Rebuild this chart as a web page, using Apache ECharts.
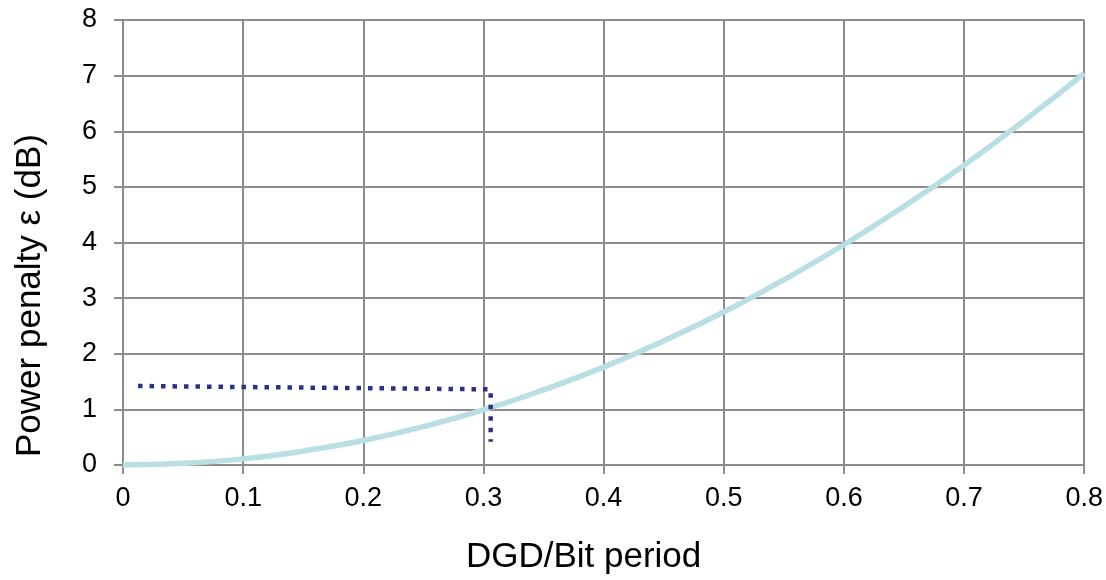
<!DOCTYPE html>
<html><head><meta charset="utf-8">
<script src="https://cdn.jsdelivr.net/npm/echarts@6/dist/echarts.min.js"></script>
<style>html,body{margin:0;padding:0;background:#fff}#c{width:1106px;height:580px}</style>
</head><body><div id="c"></div>
<script>
const dgd = [0, 0.05, 0.1, 0.15, 0.2, 0.25, 0.3, 0.35, 0.4, 0.45, 0.5, 0.55, 0.6, 0.65, 0.7, 0.75, 0.8];
const penalty = [0, 0.03, 0.11, 0.25, 0.44, 0.69, 0.99, 1.35, 1.76, 2.23, 2.75, 3.33, 3.96, 4.65, 5.39, 6.19, 7.04];
const guideX = [0.0125, 0.306, 0.306];
const guideY = [1.42, 1.36, 0.42];
const xTitle = 'DGD/Bit period';
const yTitle = 'Power penalty ε (dB)';

const chart = echarts.init(document.getElementById('c'));
const grid = '#8c8c8c';
const font = 'Liberation Sans, Arial, sans-serif';
chart.setOption({
  animation: false,
  grid: {left: 123, right: 20, top: 20, bottom: 115, containLabel: false},
  xAxis: {
    type: 'value', min: 0, max: 0.8, interval: 0.1,
    name: xTitle, nameLocation: 'middle', nameGap: 75,
    nameTextStyle: {fontFamily: font, fontSize: 35, color: '#000', padding: [0, 40, 0, 0]},
    axisLine: {show: true, lineStyle: {color: grid, width: 2}},
    axisTick: {show: true, length: 9, lineStyle: {color: grid, width: 2}},
    axisLabel: {margin: 20, fontFamily: font, fontSize: 27, color: '#000',
      formatter: v => String(Math.round(v*10)/10)},
    splitLine: {show: true, lineStyle: {color: grid, width: 2}}
  },
  yAxis: {
    type: 'value', min: 0, max: 8, interval: 1,
    name: yTitle, nameLocation: 'middle', nameGap: 75, nameRotate: 90,
    nameTextStyle: {fontFamily: font, fontSize: 35, color: '#000', padding: [0, 106, 0, 0]},
    axisLine: {show: true, lineStyle: {color: grid, width: 2}},
    axisTick: {show: true, length: 9, lineStyle: {color: grid, width: 2}},
    axisLabel: {margin: 26, fontFamily: font, fontSize: 27, color: '#000'},
    splitLine: {show: true, lineStyle: {color: grid, width: 2}}
  },
  series: [
    {type: 'line', smooth: true, symbol: 'none', z: 3,
     data: dgd.map((x, i) => [x, penalty[i]]),
     lineStyle: {color: '#b9dfe2', width: 5.5}},
    {type: 'line', symbol: 'none', z: 4,
     data: guideX.map((x, i) => [x, guideY[i]]),
     lineStyle: {color: '#2e3087', width: 4.5, type: [4.5, 7], cap: 'butt'}}
  ]
});
</script></body></html>
